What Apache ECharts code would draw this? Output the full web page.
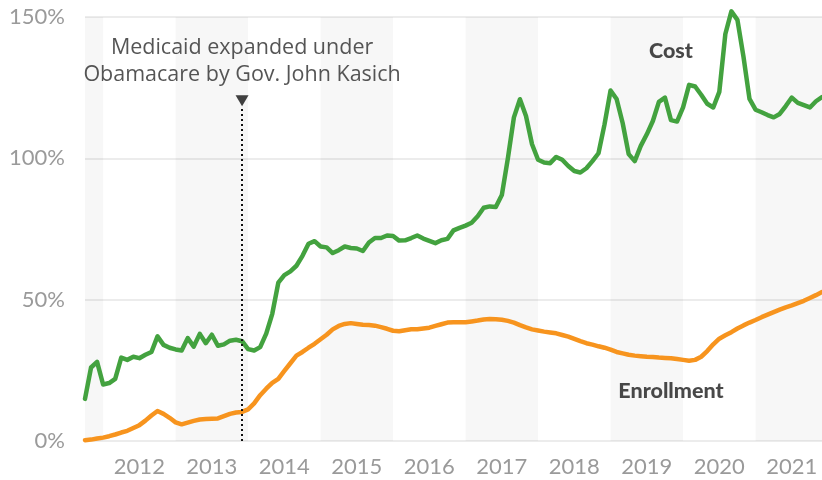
<!DOCTYPE html>
<html><head><meta charset="utf-8">
<script src="https://cdn.jsdelivr.net/npm/echarts@6/dist/echarts.min.js"></script>
<style>html,body{margin:0;padding:0;background:#fff}#c{width:822px;height:480px}</style>
</head><body><div id="c"></div>
<script>
// month categories Oct 2011 .. Dec 2021
const firstMonth = [2011, 10];
const lastMonth = [2021, 12];
const months = [];
for (let y = firstMonth[0]; y <= lastMonth[0]; y++) {
  for (let m = 1; m <= 12; m++) {
    if (y === firstMonth[0] && m < firstMonth[1]) continue;
    if (y === lastMonth[0] && m > lastMonth[1]) continue;
    months.push(y + '-' + String(m).padStart(2, '0'));
  }
}

// percent change, cost
const cost = [
  14.9, 26, 28, 20, 20.5, 22, 29.5, 28.7, 29.8, 29.3, 30.5, 31.5,
  37, 34, 33, 32.4, 32, 36.4, 33.4, 37.9, 34.6, 37.6, 33.7, 34.2,
  35.5, 35.8, 35.3, 32.5, 32, 33.2, 38, 45, 56, 58.7, 60, 62,
  65.5, 69.8, 70.7, 68.8, 68.5, 66.5, 67.5, 68.8, 68.3, 68.1, 67.2, 70.2,
  71.8, 71.8, 72.7, 72.5, 70.9, 71, 71.8, 72.7, 71.6, 70.8, 70, 71,
  71.5, 74.5, 75.4, 76.2, 77.2, 79.5, 82.5, 83, 82.8, 87, 100, 114.5,
  120.9, 115, 105, 99.5, 98.5, 98.3, 100.5, 99.5, 97.3, 95.5, 95, 96.5,
  99, 101.8, 112, 124, 121, 112.5, 101.5, 99, 104.4, 108.5, 113.2, 120,
  121.5, 113.5, 113, 118, 126, 125.4, 122.5, 119.3, 118, 123.5, 144, 152,
  149, 136, 121, 117.2, 116.3, 115.3, 114.5, 115.7, 118.5, 121.5, 119.6, 118.8,
  118, 120.2, 121.7
];

// percent change, enrollment
const enrollment = [
  0.3, 0.5, 0.9, 1.2, 1.7, 2.3, 3.0, 3.6, 4.6, 5.6, 7.2, 9.0,
  10.6, 9.6, 8.2, 6.6, 5.9, 6.5, 7.1, 7.6, 7.8, 7.9, 8.0, 8.8,
  9.6, 10.1, 10.3, 11.2, 13.3, 16.2, 18.5, 20.6, 22, 24.8, 27.5, 30.2,
  31.5, 33, 34.4, 36, 37.6, 39.5, 40.7, 41.4, 41.7, 41.4, 41.1, 41,
  40.8, 40.3, 39.7, 39, 38.8, 39.2, 39.5, 39.5, 39.8, 40.1, 40.7, 41.3,
  41.9, 42, 42, 42, 42.3, 42.6, 43, 43.2, 43.1, 42.9, 42.5, 41.9,
  41, 40.2, 39.5, 39.1, 38.7, 38.4, 38.1, 37.5, 36.9, 36.1, 35.3, 34.6,
  34.1, 33.5, 33, 32.3, 31.5, 31, 30.5, 30.2, 30, 29.8, 29.7, 29.5,
  29.4, 29.3, 29, 28.7, 28.4, 28.7, 29.8, 31.8, 34.2, 36.2, 37.4, 38.5,
  39.8, 40.9, 41.9, 42.8, 43.8, 44.7, 45.6, 46.5, 47.3, 48, 48.8, 49.6,
  50.6, 51.6, 52.7
];

const yMin = 0, yMax = 150, yStep = 50;
const shadedYears = [2011, 2013, 2015, 2017, 2019, 2021];
const expansionMonth = '2013-12';
const annotationText = 'Medicaid expanded under\nObamacare by Gov. John Kasich';
const annotationY = 134.2;
const markerY = 120.4;
const dottedTop = 118.3;
const costLabel = { text: 'Cost', at: ['2019-11', 138] };
const enrollLabel = { text: 'Enrollment', at: ['2019-11', 17.8] };

const first = months[0], last = months[months.length - 1];
const bands = shadedYears.map(y => {
  const a = (y + '-01') < first ? first : (y + '-01');
  const bEnd = (y + 1) + '-01';
  const b = bEnd > last ? last : bEnd;
  return [{ xAxis: a }, { xAxis: b }];
});

const chart = echarts.init(document.getElementById('c'), null, { renderer: 'canvas' });
chart.setOption({
  animation: false,
  backgroundColor: '#fff',
  grid: { left: 85, right: 0, top: 17, bottom: 39 },
  xAxis: {
    type: 'category',
    data: months,
    boundaryGap: false,
    axisLine: { show: false },
    axisTick: { show: false },
    splitLine: { show: false },
    axisLabel: {
      interval: (i, v) => v.endsWith('-07'),
      formatter: v => v.slice(0, 4),
      color: '#9a9a9a',
      fontFamily: 'Lato',
      fontSize: 22,
      margin: 15
    }
  },
  yAxis: {
    type: 'value',
    min: yMin, max: yMax, interval: yStep,
    axisLine: { show: false },
    axisTick: { show: false },
    splitLine: { lineStyle: { color: '#e6e6e6', width: 1.5 } },
    axisLabel: {
      formatter: '{value}%',
      color: '#9a9a9a',
      fontFamily: 'Lato',
      fontSize: 22,
      margin: 20
    }
  },
  series: [
    {
      name: 'bands', type: 'line', data: [], z: 0, silent: true,
      markArea: {
        silent: true,
        itemStyle: { color: 'rgba(0,0,0,0.032)' },
        data: bands
      }
    },
    {
      name: 'Enrollment', type: 'line', data: enrollment, z: 3,
      showSymbol: false, clip: false, smooth: false,
      lineStyle: { color: '#f7941e', width: 4.5, join: 'round', cap: 'round' },
      itemStyle: { color: '#f7941e' }
    },
    {
      name: 'Cost', type: 'line', data: cost, z: 4,
      showSymbol: false, clip: false,
      lineStyle: { color: '#43a23f', width: 4.5, join: 'round', cap: 'round' },
      itemStyle: { color: '#43a23f' }
    },
    {
      name: 'annotation', type: 'scatter', z: 5, silent: true,
      symbolSize: 0,
      data: [[expansionMonth, annotationY]],
      label: {
        show: true, position: 'inside', formatter: annotationText,
        color: '#2b2b2b', fontFamily: 'Open Sans', fontSize: 21.5, lineHeight: 27,
        align: 'center', verticalAlign: 'middle'
      },
      markLine: {
        silent: true, symbol: ['none', 'none'],
        label: { show: false },
        lineStyle: { color: '#111', width: 2, type: [2, 3] },
        data: [[{ coord: [expansionMonth, 0] }, { coord: [expansionMonth, dottedTop] }]]
      }
    },
    {
      name: 'marker', type: 'scatter', z: 5, silent: true,
      symbol: 'path://M0,0L10,0L5,9Z', symbolSize: [13, 11],
      itemStyle: { color: '#111' },
      data: [[expansionMonth, markerY]]
    },
    {
      name: 'seriesLabels', type: 'scatter', z: 5, silent: true,
      symbolSize: 0,
      data: [costLabel.at, enrollLabel.at],
      label: {
        show: true, position: 'inside',
        formatter: p => p.dataIndex === 0 ? costLabel.text : enrollLabel.text,
        color: '#1a1a1a', fontFamily: 'Lato', fontWeight: 900, fontSize: 21.5
      }
    }
  ]
});
</script></body></html>
